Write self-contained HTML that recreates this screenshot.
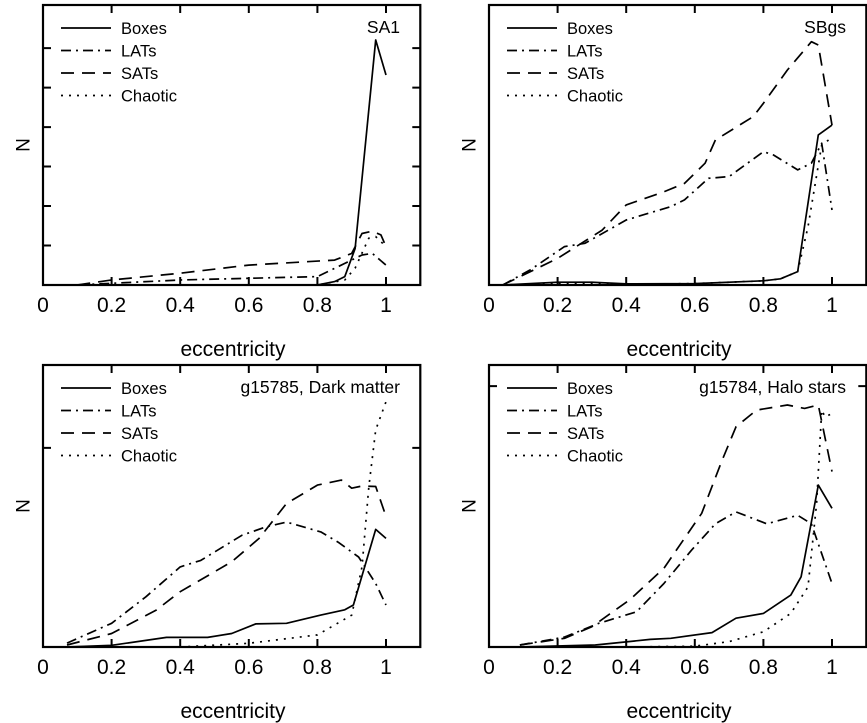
<!DOCTYPE html>
<html><head><meta charset="utf-8"><style>
html,body{margin:0;padding:0;background:#fff;}
svg{display:block;font-family:"Liberation Sans",sans-serif;}
</style></head><body>
<svg id="fig" width="867" height="723" viewBox="0 0 867 723"></svg>
<script>
// ---- data (x = eccentricity, y = N in relative units, 0..100 = panel height) ----
const xTicks = [0, 0.2, 0.4, 0.6, 0.8, 1];
const xTickLabels = ["0", "0.2", "0.4", "0.6", "0.8", "1"];
const seriesNames = ["Boxes", "LATs", "SATs", "Chaotic"];

// Panel SA1
const sa1BoxesX = [0.1,0.3,0.5,0.7,0.8,0.85,0.88,0.91,0.97,1.0];
const sa1BoxesY = [0,0,0,0,0,1.2,3,13,87.5,75];
const sa1LatsX = [0.1,0.2,0.4,0.6,0.8,0.88,0.93,0.96,1.0];
const sa1LatsY = [0,0.6,1.8,2.4,3.0,7.7,10.7,11.3,7.1];
const sa1SatsX = [0.1,0.2,0.4,0.6,0.85,0.9,0.93,0.96,0.985,1.0];
const sa1SatsY = [0,1.8,4.2,7.1,8.9,11.3,18.4,19.2,17.9,13.7];
const sa1ChaosX = [0.6,0.8,0.88,0.91,0.95,0.97,1.0];
const sa1ChaosY = [0,0,1.8,6,16.7,17.3,13.7];
const sa1YTicks = [14.1,28.2,42.3,56.4,70.5,84.6];

// Panel SBgs
const sbBoxesX = [0.04,0.2,0.3,0.4,0.6,0.8,0.85,0.9,0.96,1.0];
const sbBoxesY = [0,1,1,0.4,0.5,1.5,2.2,4.8,53.6,57.1];
const sbLatsX = [0.04,0.12,0.22,0.28,0.4,0.53,0.57,0.64,0.7,0.8,0.83,0.9,0.94,0.97,1.0];
const sbLatsY = [0,5.4,13.7,14.9,23.2,28,30.4,38.1,38.7,47.6,46.4,41.1,43.5,50.6,26.8];
const sbSatsX = [0.04,0.2,0.33,0.4,0.51,0.57,0.63,0.66,0.77,0.8,0.87,0.94,0.96,1.0];
const sbSatsY = [0,9.5,19.6,28.6,33.3,36.3,43.5,51.8,60.1,64.9,76.8,86.9,85.7,57.1];
const sbChaosX = [0.04,0.2,0.4,0.6,0.8,0.85,0.9,0.93,0.97,0.99];
const sbChaosY = [0,0.6,0.3,0.5,1.5,2.2,4.8,20.8,50,51.8];
const sbYTicks = [];

// Panel g15785 Dark matter
const dmBoxesX = [0.07,0.2,0.36,0.48,0.55,0.62,0.71,0.81,0.88,0.905,0.97,1.0];
const dmBoxesY = [0,0.6,3.4,3.4,4.8,8.2,8.4,11.3,13.2,14.9,41.7,38.5];
const dmLatsX = [0.07,0.2,0.3,0.4,0.46,0.58,0.65,0.71,0.81,0.86,0.92,0.97,1.0];
const dmLatsY = [1.4,8.4,17.8,28.4,30.7,39.6,42.6,44.3,40.8,37.2,31.9,22.5,14.9];
const dmSatsX = [0.07,0.2,0.33,0.4,0.55,0.63,0.71,0.8,0.87,0.9,0.93,0.97,1.0];
const dmSatsY = [0.7,4.8,13.1,19.6,30.2,38.5,50.9,57.4,59.2,56.3,57.1,56.9,46.3];
const dmChaosX = [0.4,0.6,0.8,0.9,0.93,0.95,0.97,1.0];
const dmChaosY = [0,1.3,4.3,11.3,28.4,56.7,77,87];
const dmYTicks = [70.6];

// Panel g15784 Halo stars
const hsBoxesX = [0.09,0.31,0.47,0.53,0.65,0.72,0.8,0.88,0.91,0.96,1.0];
const hsBoxesY = [0,0.7,2.7,3.1,5.1,10.2,11.9,18.4,24.9,57.4,49.2];
const hsLatsX = [0.09,0.22,0.32,0.43,0.51,0.59,0.66,0.72,0.81,0.9,0.94,1.0];
const hsLatsY = [0.7,3.5,8.4,12.5,22.5,34.3,43.7,47.9,43.7,46.7,43.7,22.5];
const hsSatsX = [0.09,0.22,0.3,0.41,0.51,0.62,0.68,0.72,0.78,0.87,0.92,0.96,1.0];
const hsSatsY = [0.7,3.1,7.2,16.7,27.9,47.4,66.3,78.1,84,85.8,84.6,85.8,62.2];
const hsChaosX = [0.4,0.6,0.7,0.8,0.88,0.93,0.955,0.97,0.98,1.0];
const hsChaosY = [0,0.3,1.9,5.4,11.9,21.3,50.9,84,81.6,82.8];
const hsYTicks = [92.5];

// ---- drawing ----
const NS = "http://www.w3.org/2000/svg";
const svg = document.getElementById("fig");
function mk(tag, attrs, parent) {
  const e = document.createElementNS(NS, tag);
  for (const k in attrs) e.setAttribute(k, attrs[k]);
  (parent || svg).appendChild(e);
  return e;
}
const styles = {
  Boxes: "",
  LATs: "10 5 2 5",
  SATs: "13 8",
  Chaotic: "2 6"
};
const panels = [
  {id:"sa1", title:"SA1", left:43, top:5, bottom:285, xs:[sa1BoxesX,sa1LatsX,sa1SatsX,sa1ChaosX], ys:[sa1BoxesY,sa1LatsY,sa1SatsY,sa1ChaosY], yt:sa1YTicks},
  {id:"sbgs", title:"SBgs", left:489, top:5, bottom:285, xs:[sbBoxesX,sbLatsX,sbSatsX,sbChaosX], ys:[sbBoxesY,sbLatsY,sbSatsY,sbChaosY], yt:sbYTicks},
  {id:"dark-matter", title:"g15785, Dark matter", left:43, top:365, bottom:647, xs:[dmBoxesX,dmLatsX,dmSatsX,dmChaosX], ys:[dmBoxesY,dmLatsY,dmSatsY,dmChaosY], yt:dmYTicks},
  {id:"halo-stars", title:"g15784, Halo stars", left:489, top:365, bottom:647, xs:[hsBoxesX,hsLatsX,hsSatsX,hsChaosX], ys:[hsBoxesY,hsLatsY,hsSatsY,hsChaosY], yt:hsYTicks}
];
const XSCALE = 343, XMAX = 1.1;

panels.forEach(p => {
  const g = mk("g", {});
  
  
  const h = p.bottom - p.top;
  const sx = v => p.left + v * XSCALE;
  const sy = v => p.bottom - v / 100 * h;
  const right = sx(XMAX);

  const frame = mk("rect", {x:p.left, y:p.top, width:right-p.left, height:h, fill:"none", stroke:"#000", "stroke-width":2.2}, g);
  
  

  xTicks.forEach((t, i) => {
    const x = sx(t);
    const tk = mk("path", {d:`M${x},${p.bottom}v-8M${x},${p.top}v8`, stroke:"#000", "stroke-width":2, fill:"none"}, g);
    
    
    const lb = mk("text", {x:x, y:p.bottom+27, "font-size":21, "text-anchor":"middle"}, g);
    lb.textContent = xTickLabels[i];
    
    
  });
  p.yt.forEach(t => {
    const y = sy(t);
    const tk = mk("path", {d:`M${p.left},${y}h8M${right},${y}h-8`, stroke:"#000", "stroke-width":2, fill:"none"}, g);
    
    
  });

  const xt = mk("text", {x:p.left+190, y:p.bottom+71, "font-size":21, "text-anchor":"middle"}, g);
  xt.textContent = "eccentricity";
  
  

  const ytl = mk("text", {x:0, y:0, "font-size":19, "text-anchor":"middle", transform:`translate(${p.left-27},${(p.top+p.bottom)/2}) rotate(90)`}, g);
  ytl.textContent = "N";
  
  

  const tt = mk("text", {x:p.left+357, y:p.top+28, "font-size":17.5, "text-anchor":"end"}, g);
  tt.textContent = p.title;
  
  

  seriesNames.forEach((name, si) => {
    const xsArr = p.xs[si], ysArr = p.ys[si];
    const d = xsArr.map((v, i) => (i ? "L" : "M") + sx(v).toFixed(1) + "," + sy(ysArr[i]).toFixed(1)).join("");
    const ln = mk("path", {d:d, fill:"none", stroke:"#000", "stroke-width":1.7, "stroke-dasharray":styles[name] || "none", "stroke-linejoin":"round"}, g);
    
    

    const ly = p.top + 23 + si * 22.5;
    const le = mk("g", {}, g);
    
    
    mk("path", {d:`M${p.left+18},${ly}h50`, stroke:"#000", "stroke-width":1.7, "stroke-dasharray":styles[name] || "none"}, le);
    const lt = mk("text", {x:p.left+78, y:ly+6, "font-size":16.5}, le);
    lt.textContent = name;
  });
});
</script>
</body></html>
